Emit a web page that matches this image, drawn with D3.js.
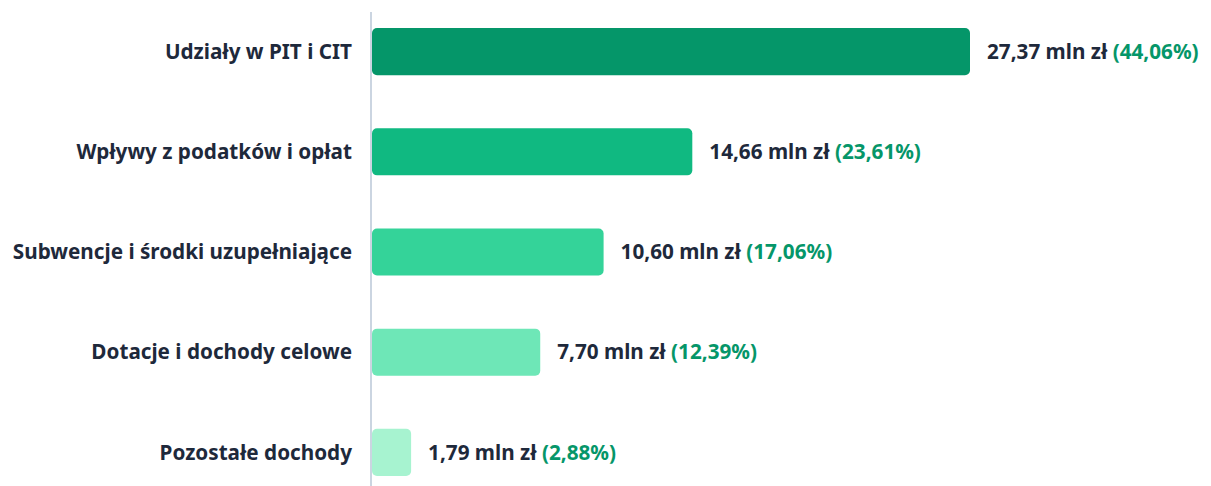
<!DOCTYPE html>
<html lang="pl">
<head>
<meta charset="UTF-8"/>
<title>Dochody</title>
<script src="https://cdn.jsdelivr.net/npm/d3@7"></script>
<style>
  body { margin: 0; background: #fff; }
  text { font-family: "Noto Sans", "Open Sans", sans-serif; font-weight: 700; }
</style>
</head>
<body>
<script>
var categories = ["Udziały w PIT i CIT", "Wpływy z podatków i opłat", "Subwencje i środki uzupełniające", "Dotacje i dochody celowe", "Pozostałe dochody"];
var values = [27.37, 14.66, 10.60, 7.70, 1.79];
var shares = [44.06, 23.61, 17.06, 12.39, 2.88];
var colors = ["#059669", "#10b981", "#34d399", "#6ee7b7", "#a7f3d0"];

var w = 1211, h = 486;
var left = 372;

var svg = d3.select("body").append("svg")
  .attr("width", w)
  .attr("height", h);

var x = d3.scaleLinear()
  .domain([0, 27.37])
  .range([left, 970]);

var y = d3.scaleBand()
  .domain(categories)
  .range([2, 502])
  .paddingInner(0.53)
  .paddingOuter(0.26);

var fmt = function(v) { return v.toFixed(2).replace(".", ","); };

svg.selectAll("rect.bar")
  .data(values)
  .enter()
  .append("rect")
  .attr("class", "bar")
  .attr("x", x(0))
  .attr("y", function(d, i) { return y(categories[i]); })
  .attr("width", function(d) { return x(d) - x(0); })
  .attr("height", y.bandwidth())
  .attr("rx", 5)
  .attr("fill", function(d, i) { return colors[i]; });

svg.append("line")
  .attr("x1", left - 1).attr("x2", left - 1)
  .attr("y1", 12).attr("y2", h)
  .attr("stroke", "#cbd5e1")
  .attr("stroke-width", 2);

svg.selectAll("text.cat")
  .data(categories)
  .enter()
  .append("text")
  .attr("class", "cat")
  .attr("x", 352)
  .attr("y", function(d) { return y(d) + y.bandwidth() / 2; })
  .attr("dy", "0.35em")
  .attr("text-anchor", "end")
  .attr("font-size", "20.7px")
  .attr("fill", "#1e293b")
  .text(function(d) { return d; });

var lab = svg.selectAll("text.val")
  .data(values)
  .enter()
  .append("text")
  .attr("class", "val")
  .attr("x", function(d) { return x(d) + 17; })
  .attr("y", function(d, i) { return y(categories[i]) + y.bandwidth() / 2; })
  .attr("dy", "0.35em")
  .attr("font-size", "20.7px")
  .attr("fill", "#1e293b");

lab.append("tspan").text(function(d) { return fmt(d) + " mln zł "; });
lab.append("tspan")
  .attr("fill", "#059669")
  .text(function(d, i) { return "(" + fmt(shares[i]) + "%)"; });
</script>
</body>
</html>
